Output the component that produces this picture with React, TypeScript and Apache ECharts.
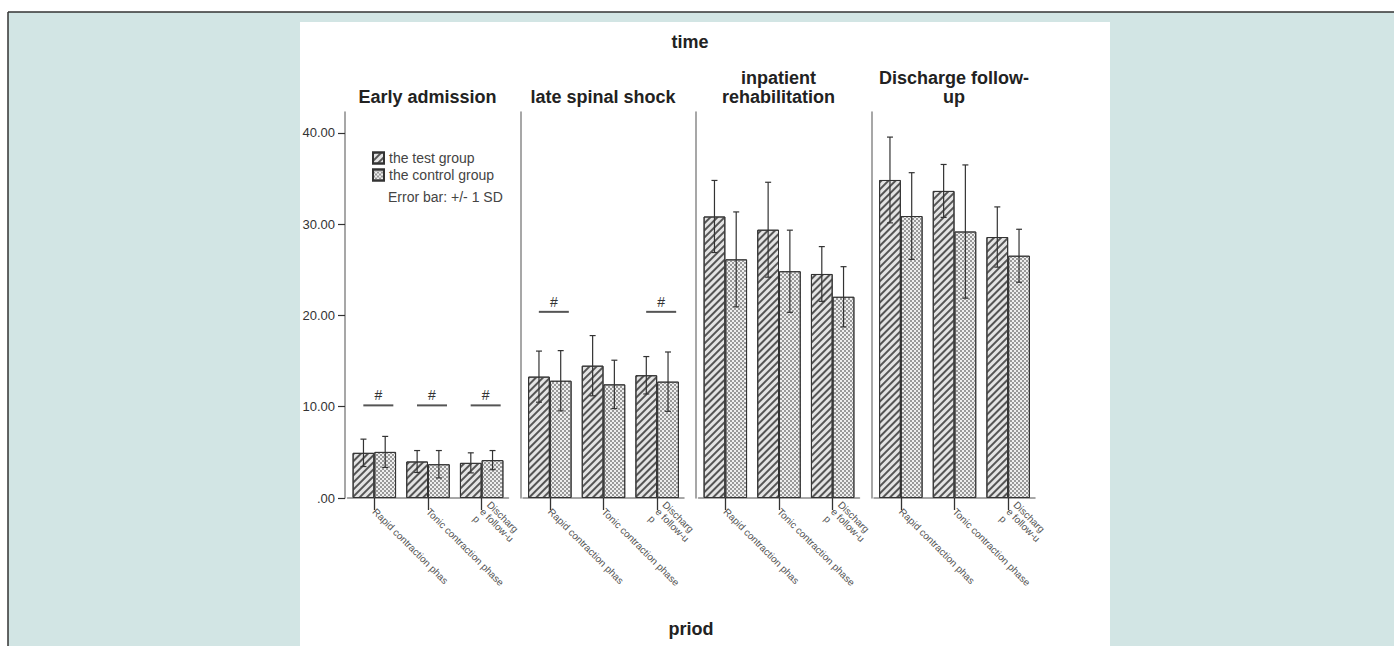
import React, { useEffect, useRef } from "react";
import * as echarts from "echarts";

// ---------- data ----------
const periods = ["Early admission", "late spinal shock", "inpatient\nrehabilitation", "Discharge follow-\nup"];
const phases = ["Rapid contraction phas", "Tonic contraction phase", "Discharg\ne follow-u\np"];
const testMeans = [
  [4.95, 4.0, 3.85],
  [13.3, 14.5, 13.45],
  [30.85, 29.4, 24.55],
  [34.85, 33.65, 28.6],
];
const testSD = [
  [1.5, 1.2, 1.1],
  [2.8, 3.3, 2.05],
  [3.95, 5.2, 3.0],
  [4.7, 2.9, 3.3],
];
const controlMeans = [
  [5.05, 3.7, 4.15],
  [12.85, 12.45, 12.75],
  [26.15, 24.85, 22.05],
  [30.9, 29.2, 26.55],
];
const controlSD = [
  [1.7, 1.5, 1.05],
  [3.3, 2.65, 3.25],
  [5.2, 4.5, 3.3],
  [4.75, 7.3, 2.9],
];
// significance markers "#": [phase index, y value]
const markers = [
  [[0, 10.15], [1, 10.15], [2, 10.15]],
  [[0, 20.4], [2, 20.4]],
  [],
  [],
];
const yTicks = [0, 10, 20, 30, 40];
const yMax = 42.3;
const groupNames = ["the test group", "the control group"];

const FONT = "'Liberation Sans', Arial, Helvetica, sans-serif";

export default function App() {
  const ref = useRef<HTMLDivElement>(null);

  useEffect(() => {
    if (!ref.current) return;
    const chart = echarts.init(ref.current, undefined, { renderer: "svg" });

    const panelLefts = [345, 520.5, 696, 871.5];
    const gridInset = 2.5;
    const gridWidth = 161;
    const barFrac = 0.81;

    const testDecal = {
      symbol: "rect",
      symbolSize: 1,
      color: "#555555",
      backgroundColor: "#e4e4e4",
      dashArrayX: [1, 0],
      dashArrayY: [1.5, 2.3],
      rotation: -Math.PI / 4,
    };
    const controlDecal = {
      symbol: "rect",
      symbolSize: 1,
      color: "#999999",
      backgroundColor: "#eeeeee",
      dashArrayX: [[1.5, 1.5], [0, 1.5, 1.5, 0]],
      dashArrayY: [1.5, 0],
      rotation: 0,
    };

    const errRender = (sign: number) => (params: any, api: any) => {
      const idx = api.value(0);
      const m = api.value(1);
      const sd = api.value(2);
      const c = api.coord([idx, m]);
      const bw = (api.size([1, 0])[0] * barFrac) / 2;
      const x = c[0] + (sign * bw) / 2;
      const yt = api.coord([idx, m + sd])[1];
      const yb = api.coord([idx, m - sd])[1];
      const cap = 3;
      const st = { stroke: "#333", lineWidth: 1.2 };
      return {
        type: "group",
        children: [
          { type: "line", shape: { x1: x, y1: yt, x2: x, y2: yb }, style: st },
          { type: "line", shape: { x1: x - cap, y1: yt, x2: x + cap, y2: yt }, style: st },
          { type: "line", shape: { x1: x - cap, y1: yb, x2: x + cap, y2: yb }, style: st },
        ],
      };
    };

    const markRender = (params: any, api: any) => {
      const idx = api.value(0);
      const v = api.value(1);
      const c = api.coord([idx, v]);
      const x = c[0] + 4;
      return {
        type: "group",
        children: [
          {
            type: "line",
            shape: { x1: x - 15, y1: c[1], x2: x + 15, y2: c[1] },
            style: { stroke: "#555", lineWidth: 2 },
          },
          {
            type: "text",
            style: {
              text: "#",
              x: x,
              y: c[1] - 3,
              align: "center",
              verticalAlign: "bottom",
              fill: "#333",
              font: `14px ${FONT}`,
            },
          },
        ],
      };
    };

    const grids: any[] = [];
    const xAxes: any[] = [];
    const yAxes: any[] = [];
    const series: any[] = [];

    periods.forEach((p, i) => {
      grids.push({
        left: panelLefts[i] + gridInset,
        top: 112,
        width: gridWidth,
        height: 386,
      });
      xAxes.push({
        type: "category",
        gridIndex: i,
        data: phases,
        axisLine: { show: true, lineStyle: { color: "#8a8a8a", width: 1.5 } },
        axisTick: {
          show: true,
          inside: false,
          interval: 0,
          alignWithLabel: true,
          length: 12,
          lineStyle: { color: "#333", width: 1.3 },
        },
        axisLabel: {
          interval: 0,
          rotate: -45,
          margin: 12,
          fontSize: 10,
          lineHeight: 10,
          color: "#555",
          fontFamily: FONT,
        },
      });
      yAxes.push({
        type: "value",
        gridIndex: i,
        min: 0,
        max: yMax,
        offset: gridInset,
        splitLine: { show: false },
        axisLine: { show: true, lineStyle: { color: "#8a8a8a", width: 1.5 } },
        axisTick: {
          show: i === 0,
          length: 7,
          customValues: yTicks,
          lineStyle: { color: "#333", width: 1.2 },
        },
        axisLabel: {
          show: i === 0,
          customValues: yTicks,
          margin: 10,
          fontSize: 13,
          color: "#333",
          fontFamily: FONT,
          formatter: (v: number) => (v === 0 ? ".00" : v.toFixed(2)),
        },
      });
      series.push({
        type: "bar",
        name: groupNames[0],
        xAxisIndex: i,
        yAxisIndex: i,
        data: testMeans[i],
        barGap: "0%",
        barCategoryGap: "19%",
        itemStyle: { color: "#e4e4e4", borderColor: "#333", borderWidth: 1, decal: testDecal },
        z: 2,
      });
      series.push({
        type: "bar",
        name: groupNames[1],
        xAxisIndex: i,
        yAxisIndex: i,
        data: controlMeans[i],
        barGap: "0%",
        barCategoryGap: "19%",
        itemStyle: { color: "#eeeeee", borderColor: "#333", borderWidth: 1, decal: controlDecal },
        z: 2,
      });
      series.push({
        type: "custom",
        name: "err-test-" + i,
        xAxisIndex: i,
        yAxisIndex: i,
        data: testMeans[i].map((m, j) => [j, m, testSD[i][j]]),
        encode: { x: 0, y: 1 },
        renderItem: errRender(-1),
        z: 4,
        silent: true,
      });
      series.push({
        type: "custom",
        name: "err-control-" + i,
        xAxisIndex: i,
        yAxisIndex: i,
        data: controlMeans[i].map((m, j) => [j, m, controlSD[i][j]]),
        encode: { x: 0, y: 1 },
        renderItem: errRender(1),
        z: 4,
        silent: true,
      });
      if (markers[i].length) {
        series.push({
          type: "custom",
          name: "mark-" + i,
          xAxisIndex: i,
          yAxisIndex: i,
          data: markers[i],
          encode: { x: 0, y: 1 },
          renderItem: markRender,
          z: 4,
          silent: true,
        });
      }
    });

    const titleTexts: any[] = periods.map((p, i) => ({
      type: "text",
      x: panelLefts[i] + 82.5,
      y: 106,
      style: {
        text: p,
        align: "center",
        verticalAlign: "bottom",
        lineHeight: 19,
        fill: "#222",
        font: `bold 18px ${FONT}`,
      },
    }));

    chart.setOption({
      animation: false,
      grid: grids,
      xAxis: xAxes,
      yAxis: yAxes,
      series,
      legend: {
        data: groupNames,
        orient: "vertical",
        left: 372,
        top: 151,
        padding: 0,
        itemWidth: 11,
        itemHeight: 11,
        itemGap: 3,
        icon: "rect",
        selectedMode: false,
        textStyle: { fontSize: 14, color: "#444", fontFamily: FONT },
      },
      graphic: [
        {
          type: "rect",
          z: -100,
          silent: true,
          shape: { x: 8, y: 12, width: 1386, height: 634 },
          style: { fill: "#d2e5e4" },
        },
        {
          type: "rect",
          z: -99,
          silent: true,
          shape: { x: 300, y: 22, width: 810, height: 624 },
          style: { fill: "#ffffff" },
        },
        {
          type: "line",
          z: -98,
          silent: true,
          shape: { x1: 8, y1: 12, x2: 1394, y2: 12 },
          style: { stroke: "#333", lineWidth: 1.5 },
        },
        {
          type: "line",
          z: -98,
          silent: true,
          shape: { x1: 8, y1: 12, x2: 8, y2: 646 },
          style: { stroke: "#333", lineWidth: 1.5 },
        },
        {
          type: "text",
          x: 690,
          y: 42,
          style: {
            text: "time",
            align: "center",
            verticalAlign: "middle",
            fill: "#222",
            font: `bold 18px ${FONT}`,
          },
        },
        {
          type: "text",
          x: 691,
          y: 629,
          style: {
            text: "priod",
            align: "center",
            verticalAlign: "middle",
            fill: "#222",
            font: `bold 18px ${FONT}`,
          },
        },
        {
          type: "text",
          x: 388,
          y: 197,
          style: {
            text: "Error bar: +/- 1 SD",
            align: "left",
            verticalAlign: "middle",
            fill: "#444",
            font: `14px ${FONT}`,
          },
        },
        ...titleTexts,
      ],
    });

    return () => chart.dispose();
  }, []);

  return (
    <div
      ref={ref}
      style={{ position: "absolute", left: 0, top: 0, width: 1394, height: 646, background: "#ffffff" }}
    />
  );
}
